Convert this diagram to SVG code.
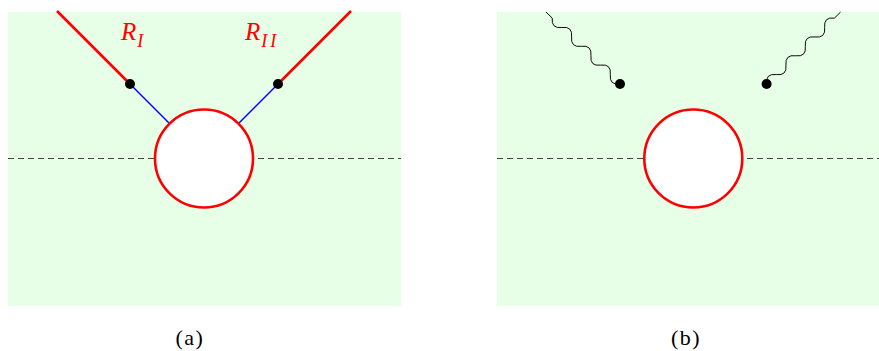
<svg xmlns="http://www.w3.org/2000/svg" width="879" height="351" viewBox="0 0 879 351">
<style>
.bg{fill:#e6ffe6}
.dash{stroke:#444;stroke-width:1;stroke-dasharray:6,4;fill:none}
.loop{fill:#fff;stroke:#f00;stroke-width:2.6}
.red{stroke:#f00;stroke-width:2.6;fill:none}
.blue{stroke:#00f;stroke-width:1.5;fill:none}
.wave{stroke:#000;stroke-width:0.9;fill:none}
.dot{fill:#000}
.lbl{font-style:italic;fill:#f00;font-size:25px}
.sub{font-size:18px;letter-spacing:3px}
.cap{font-size:22px;fill:#000;text-anchor:middle;letter-spacing:1.5px}
</style>
<g id="panel-a">
<rect class="bg" x="8" y="12" width="393" height="294"/>
<line class="dash" x1="8" y1="158.5" x2="401" y2="158.5"/>
</g>
<g id="panel-b">
<rect class="bg" x="497" y="12" width="382" height="294"/>
<line class="dash" x1="497" y1="158.5" x2="879" y2="158.5"/>
</g>
<g id="connectors">
<line class="red" x1="57" y1="11" x2="130" y2="84"/>
<line class="red" x1="351" y1="11" x2="278" y2="84"/>
<line class="blue" x1="130" y1="84" x2="169" y2="123"/>
<line class="blue" x1="278" y1="84" x2="239" y2="123"/>
<path class="wave" transform="translate(546,12) rotate(44.2)" d="M0,0 l8.7,0 q6.75,8.6 13.5,0 t13.5,0 t13.5,0 t13.5,0 t13.5,0 t13.5,0 t13.5,0"/>
<path class="wave" transform="translate(766.6,84) rotate(-44.2)" d="M0,0 q6.75,-8.6 13.5,0 t13.5,0 t13.5,0 t13.5,0 t13.5,0 t13.5,0 t13.5,0 l8.7,0"/>
</g>
<g id="loop-a"><circle class="loop" cx="204" cy="158.5" r="49"/></g>
<g id="loop-b"><circle class="loop" cx="693.3" cy="158.5" r="49"/></g>
<g id="vertex-a1"><circle class="dot" cx="130" cy="84" r="5"/></g>
<g id="vertex-a2"><circle class="dot" cx="278" cy="84" r="5"/></g>
<g id="vertex-b1"><circle class="dot" cx="620" cy="84" r="5"/></g>
<g id="vertex-b2"><circle class="dot" cx="766.6" cy="84" r="5"/></g>
<g id="label-RI"><text class="lbl" font-family="'Liberation Serif', 'DejaVu Serif', serif" x="121" y="40">R<tspan class="sub" dx="1" dy="6.5">I</tspan></text></g>
<g id="label-RII"><text class="lbl" font-family="'Liberation Serif', 'DejaVu Serif', serif" x="245" y="40">R<tspan class="sub" dx="1" dy="6.5">II</tspan></text></g>
<g id="caption-a"><text class="cap" font-family="'Liberation Serif', 'DejaVu Serif', serif" x="190" y="345">(a)</text></g>
<g id="caption-b"><text class="cap" font-family="'Liberation Serif', 'DejaVu Serif', serif" x="686" y="345">(b)</text></g>
</svg>
